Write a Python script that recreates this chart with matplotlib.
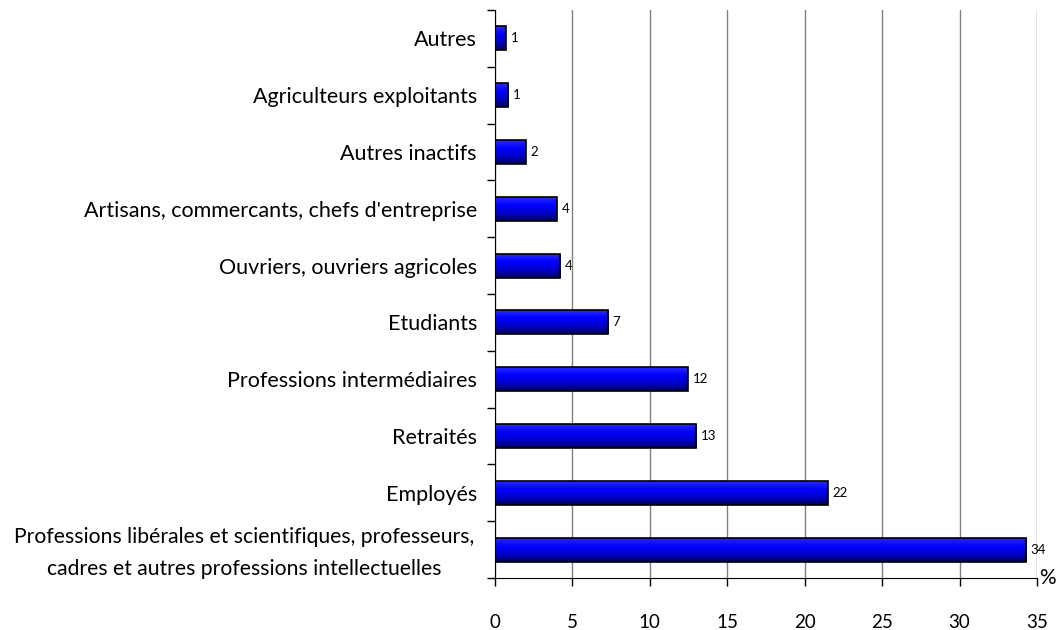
import matplotlib
matplotlib.use("Agg")
import matplotlib.pyplot as plt
import numpy as np
from matplotlib.colors import LinearSegmentedColormap
from matplotlib.transforms import blended_transform_factory

categories = [
    "Professions libérales et scientifiques, professeurs,\ncadres et autres professions intellectuelles",
    "Employés",
    "Retraités",
    "Professions intermédiaires",
    "Etudiants",
    "Ouvriers, ouvriers agricoles",
    "Artisans, commercants, chefs d'entreprise",
    "Autres inactifs",
    "Agriculteurs exploitants",
    "Autres",
]
values = [34.3, 21.5, 13.0, 12.45, 7.3, 4.2, 4.0, 2.0, 0.85, 0.7]
value_labels = ["34", "22", "13", "12", "7", "4", "4", "2", "1", "1"]
xticks = [0, 5, 10, 15, 20, 25, 30, 35]

plt.rcParams['font.family'] = ['Lato', 'DejaVu Sans']

fig = plt.figure(figsize=(10.62, 6.30), dpi=100)
ax = fig.add_axes([495/1062, 1-578/630, (1037-495)/1062, (578-10)/630])

y = np.arange(len(categories))
h = 0.42
bars = ax.barh(y, values, height=h, color='none', edgecolor='black', linewidth=1.2, zorder=3)

cmap = LinearSegmentedColormap.from_list("g", ["#00005a", "#0000c8", "#0000ff", "#2a2aff"])
grad = np.linspace(0, 1, 100).reshape(-1, 1)
for b in bars:
    x0, y0 = b.get_x(), b.get_y()
    w, hh = b.get_width(), b.get_height()
    im = ax.imshow(grad, cmap=cmap, origin='lower', aspect='auto',
                   extent=[x0, x0 + w, y0, y0 + hh], zorder=2)
    im.set_clip_path(b)

for yi, v, lab in zip(y, values, value_labels):
    ax.text(v + 0.3, yi, lab, fontsize=9.5, va='center', ha='left', zorder=4)

ax.set_xlim(0, 35)
ax.set_ylim(-0.5, len(categories) - 0.5)
ax.set_xticks(xticks)
ax.set_xticklabels([str(t) for t in xticks], fontsize=13.5)
ax.tick_params(axis='x', direction='out', length=6, width=1, pad=20)
ax.set_yticks(y)
ticklabels = [""] + categories[1:]
ax.set_yticklabels(ticklabels, fontsize=15.5)
ax.tick_params(axis='y', which='major', length=0, pad=13)
ax.set_yticks(np.arange(-0.5, len(categories), 1), minor=True)
ax.tick_params(axis='y', which='minor', direction='out', length=6, width=1)

trans = blended_transform_factory(fig.transFigure, ax.transData)
ax.text(244/1062, -0.06, categories[0], transform=trans, fontsize=15.2,
        ha='center', va='center', multialignment='center', linespacing=1.72, clip_on=False)

ax.xaxis.grid(True, color='#808080', linewidth=1, zorder=0)
ax.set_axisbelow(True)
for s in ['top', 'right']:
    ax.spines[s].set_visible(False)
ax.spines['left'].set_color('black')
ax.spines['bottom'].set_color('black')

ax.text(1.004, 0, "%", transform=ax.transAxes, fontsize=15, ha='left', va='center')

fig.savefig("out.png", dpi=100)
